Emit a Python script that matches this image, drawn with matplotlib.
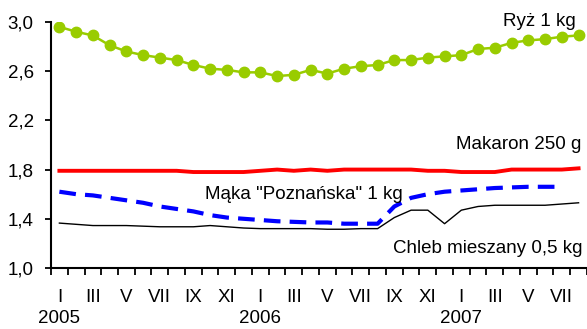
import numpy as np
import matplotlib
matplotlib.use("Agg")
import matplotlib.pyplot as plt

# monthly prices, I 2005 .. VIII 2007
ryz = [2.96, 2.92, 2.89, 2.81, 2.76, 2.73, 2.71, 2.69, 2.65, 2.62, 2.61, 2.59,
       2.59, 2.56, 2.57, 2.61, 2.58, 2.62, 2.64, 2.65, 2.69, 2.69, 2.71, 2.72,
       2.73, 2.78, 2.79, 2.83, 2.85, 2.86, 2.88, 2.89]
makaron = [1.79, 1.79, 1.79, 1.79, 1.79, 1.79, 1.79, 1.79, 1.78, 1.78, 1.78, 1.78,
           1.79, 1.80, 1.79, 1.80, 1.79, 1.80, 1.80, 1.80, 1.80, 1.80, 1.79, 1.79,
           1.78, 1.78, 1.78, 1.80, 1.80, 1.80, 1.80, 1.81]
maka = [1.62, 1.60, 1.59, 1.57, 1.55, 1.53, 1.50, 1.48, 1.46, 1.43, 1.41, 1.40,
        1.39, 1.38, 1.375, 1.37, 1.37, 1.36, 1.36, 1.36, 1.50, 1.57, 1.60, 1.62,
        1.63, 1.64, 1.65, 1.655, 1.66, 1.66, 1.66, np.nan]
chleb = [1.365, 1.355, 1.345, 1.345, 1.345, 1.34, 1.335, 1.335, 1.335, 1.345, 1.335, 1.325,
         1.32, 1.32, 1.32, 1.32, 1.315, 1.315, 1.32, 1.32, 1.41, 1.47, 1.47, 1.36,
         1.47, 1.50, 1.51, 1.51, 1.51, 1.51, 1.52, 1.53]
roman = ['I', 'II', 'III', 'IV', 'V', 'VI', 'VII', 'VIII', 'IX', 'X', 'XI', 'XII']
years = ['2005', '2006', '2007']

plt.rcParams['font.family'] = ['Liberation Sans', 'DejaVu Sans']
fs = 13.5

x = np.arange(len(ryz))
months = [roman[i % 12] for i in x]

fig = plt.figure(figsize=(5.87, 3.29), dpi=100)
ax = fig.add_axes([0.0869, 0.1854, 0.913, 0.748])

ax.plot(x, chleb, color='black', lw=1.0)
ax.plot(x, maka, color='#0000FF', lw=3.0, dashes=(4, 2.2))
ax.plot(x, makaron, color='#FF0000', lw=2.8)
ax.plot(x, ryz, color='#99CC00', lw=1.8, marker='o', ms=7.5)

ax.set_xlim(-0.5, len(ryz) - 0.5)
ax.set_ylim(1.0, 3.0)
ax.set_yticks([1.0, 1.4, 1.8, 2.2, 2.6, 3.0])
ax.set_yticklabels([f"{v:.1f}".replace('.', ',') for v in ax.get_yticks()], fontsize=fs)

ax.set_xticks(x[::2])
ax.set_xticklabels(months[::2], fontsize=fs)
ax.set_xticks(np.arange(-0.5, len(ryz), 1), minor=True)
ax.tick_params(axis='x', which='major', length=0, pad=15)
ax.tick_params(axis='x', which='minor', length=5, width=1.3, direction='out')
ax.tick_params(axis='y', length=4.5, width=1.3, pad=8)

for s in ['top', 'right']:
    ax.spines[s].set_visible(False)
for s in ['left', 'bottom']:
    ax.spines[s].set_linewidth(1.5)

for k, yr in enumerate(years):
    ax.text(12 * k, -0.205, yr, transform=ax.get_xaxis_transform(),
            ha='center', va='center', fontsize=fs)

ax.text(30.85, 3.0, 'Ryż 1 kg', ha='right', va='center', fontsize=fs)
ax.text(31.15, 2.0, 'Makaron 250 g', ha='right', va='center', fontsize=fs)
ax.text(8.7, 1.60, 'Mąka "Poznańska" 1 kg', ha='left', va='center', fontsize=fs)
ax.text(31.25, 1.155, 'Chleb mieszany 0,5 kg', ha='right', va='center', fontsize=fs)

fig.savefig('out.png', dpi=100)
